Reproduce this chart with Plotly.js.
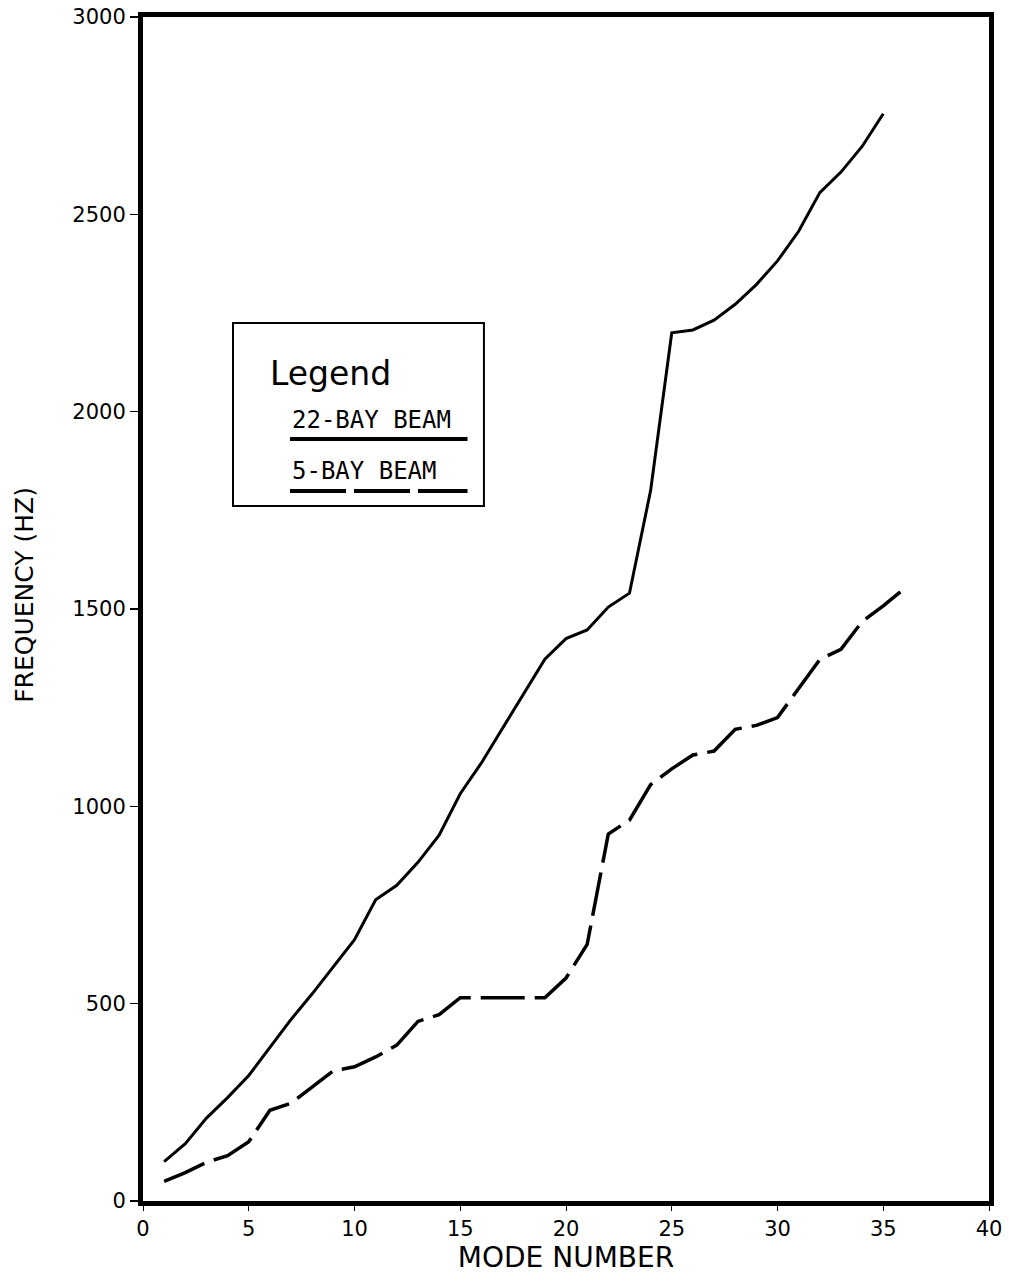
<!DOCTYPE html>
<html>
<head>
<meta charset="utf-8">
<script src="https://cdn.plot.ly/plotly-3.0.1.min.js"></script>
<style>
  html, body { margin: 0; padding: 0; background: #fff; }
  #chart { width: 1009px; height: 1288px; }
</style>
</head>
<body>
<div id="chart"></div>
<script>
// ---- data ----
var modes22 = [1,2,3,4,5,6,7,8,9,10,11,12,13,14,15,16,17,18,19,20,21,22,23,24,25,26,27,28,29,30,31,32,33,34,35];
var freq22  = [100,145,210,262,318,390,460,525,594,662,763,800,858,927,1032,1110,1198,1285,1373,1425,1447,1505,1540,1800,2200,2207,2232,2272,2322,2382,2457,2555,2607,2672,2755];

var modes5 = [1,2,3,4,5,6,7,8,9,10,11,12,13,14,15,16,17,18,19,20,21,22,23,24,25,26,27,28,29,30,31,32,33,34,35,36];
var freq5  = [50,72,98,115,150,230,248,288,330,340,365,395,455,472,515,515,515,515,515,565,650,930,965,1055,1095,1130,1140,1195,1205,1225,1300,1372,1398,1468,1508,1552];

var xTicks = [0,5,10,15,20,25,30,35,40];
var yTicks = [0,500,1000,1500,2000,2500,3000];

var legendTitle = "Legend";
var name22 = "22-BAY BEAM";
var name5 = "5-BAY BEAM";
var xTitle = "MODE NUMBER";
var yTitle = "FREQUENCY (HZ)";

var mainFont = "DejaVu Sans, sans-serif";

var traces = [
  { x: modes22, y: freq22, mode: "lines", name: name22,
    line: { color: "#000", width: 3 }, showlegend: false, hoverinfo: "skip" },
  { x: modes5, y: freq5, mode: "lines", name: name5,
    line: { color: "#000", width: 3.5, dash: "44px,10px" }, showlegend: false, hoverinfo: "skip" }
];

var layout = {
  width: 1009, height: 1288,
  margin: { l: 143, r: 20, t: 17, b: 87 },
  paper_bgcolor: "#fff", plot_bgcolor: "#fff",
  showlegend: false,
  font: { family: mainFont, color: "#000" },
  xaxis: {
    range: [0, 40], tickvals: xTicks, ticktext: xTicks.map(String),
    showgrid: false, zeroline: false,
    showline: true, mirror: true, linecolor: "#000", linewidth: 5,
    ticks: "outside", ticklen: 5, tickwidth: 1, tickcolor: "#000",
    tickfont: { family: mainFont, size: 21, color: "#000" },
    title: { text: xTitle, font: { family: mainFont, size: 28, color: "#000" }, standoff: 8 }
  },
  yaxis: {
    range: [0, 3000], tickvals: yTicks, ticktext: yTicks.map(String),
    showgrid: false, zeroline: false,
    showline: true, mirror: true, linecolor: "#000", linewidth: 5,
    ticks: "outside", ticklen: 8, tickwidth: 1.5, tickcolor: "#000",
    tickfont: { family: mainFont, size: 21, color: "#000" }
  },
  shapes: [
    { type: "rect", xref: "paper", yref: "paper", x0: 0.1064, x1: 0.403, y0: 0.587, y1: 0.7416,
      line: { color: "#000", width: 2 }, fillcolor: "rgba(0,0,0,0)" },
    { type: "line", xref: "paper", yref: "paper", x0: 0.1738, x1: 0.3836, y0: 0.6436, y1: 0.6436,
      line: { color: "#000", width: 4 } },
    { type: "line", xref: "paper", yref: "paper", x0: 0.1738, x1: 0.3836, y0: 0.5997, y1: 0.5997,
      line: { color: "#000", width: 4, dash: "56px,8px" } }
  ],
  annotations: [
    { xref: "paper", yref: "paper", x: 0.148, y: 0.699, xanchor: "left", yanchor: "middle",
      text: legendTitle, showarrow: false, font: { family: mainFont, size: 33, color: "#000" } },
    { xref: "paper", yref: "paper", x: 0.1738, y: 0.6596, xanchor: "left", yanchor: "middle",
      text: name22, showarrow: false, font: { family: "DejaVu Sans Mono, monospace", size: 24, color: "#000" } },
    { xref: "paper", yref: "paper", x: 0.1738, y: 0.6165, xanchor: "left", yanchor: "middle",
      text: name5, showarrow: false, font: { family: "DejaVu Sans Mono, monospace", size: 24, color: "#000" } },
    { xref: "paper", yref: "paper", x: -0.1395, y: 0.512, xanchor: "center", yanchor: "middle",
      text: yTitle, textangle: -90, showarrow: false, font: { family: mainFont, size: 25, color: "#000" } }
  ]
};

Plotly.newPlot("chart", traces, layout, { staticPlot: true, displayModeBar: false });
</script>
</body>
</html>
